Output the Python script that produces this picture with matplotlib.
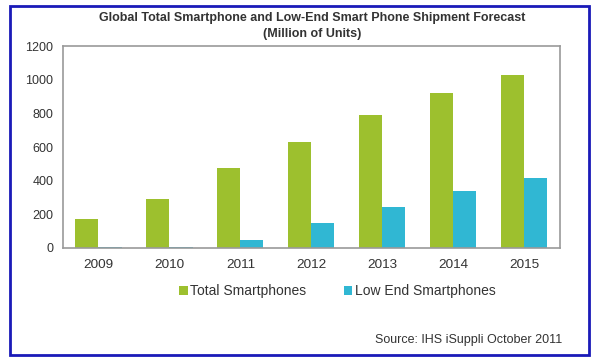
import numpy as np
import matplotlib.pyplot as plt
from matplotlib.patches import Rectangle

years = ['2009', '2010', '2011', '2012', '2013', '2014', '2015']
total_smartphones = [173, 292, 476, 632, 790, 922, 1030]
low_end_smartphones = [5, 6, 48, 149, 246, 340, 418]

plt.rcParams['font.family'] = ['Liberation Sans', 'DejaVu Sans']

fig = plt.figure(figsize=(6, 3.63), dpi=100)
ax = fig.add_axes([0.105, 0.317, 0.828, 0.556])

x = np.arange(len(years))
w = 0.325
ax.bar(x - w / 2, total_smartphones, w, color='#9DC02E', label='Total Smartphones')
ax.bar(x + w / 2, low_end_smartphones, w, color='#30B7D3', label='Low End Smartphones')

ax.set_xlim(-0.5, len(years) - 0.5)
ax.set_ylim(0, 1200)
ax.set_yticks(range(0, 1201, 200))
ax.set_xticks(x)
ax.set_xticklabels(years)
ax.tick_params(length=0, colors='#333333')
ax.tick_params(axis='x', labelsize=9.7, pad=8)
ax.tick_params(axis='y', labelsize=9, pad=7)
for s in ax.spines.values():
    s.set_color('#9a9a9a')
    s.set_linewidth(1.2)

fig.text(0.52, 0.95, 'Global Total Smartphone and Low-End Smart Phone Shipment Forecast',
         ha='center', va='center', fontsize=9, fontweight='bold', color='#333333')
fig.text(0.52, 0.905, '(Million of Units)', ha='center', va='center',
         fontsize=9, fontweight='bold', color='#333333')

leg = fig.legend(loc='center', bbox_to_anchor=(0.5625, 0.198), ncol=2, frameon=False,
                 fontsize=10, handlelength=0.6, handleheight=0.6, handletextpad=0.2,
                 columnspacing=2.7)
for t in leg.get_texts():
    t.set_color('#333333')

fig.text(0.937, 0.063, 'Source: IHS iSuppli October 2011', ha='right', va='center',
         fontsize=9, color='#333333')

fig.patches.append(Rectangle((10 / 600, 1 - 355 / 363), 579 / 600, 349 / 363,
                             transform=fig.transFigure, fill=False,
                             edgecolor='#1a1ab8', linewidth=2))

fig.savefig('out.png', dpi=100)
